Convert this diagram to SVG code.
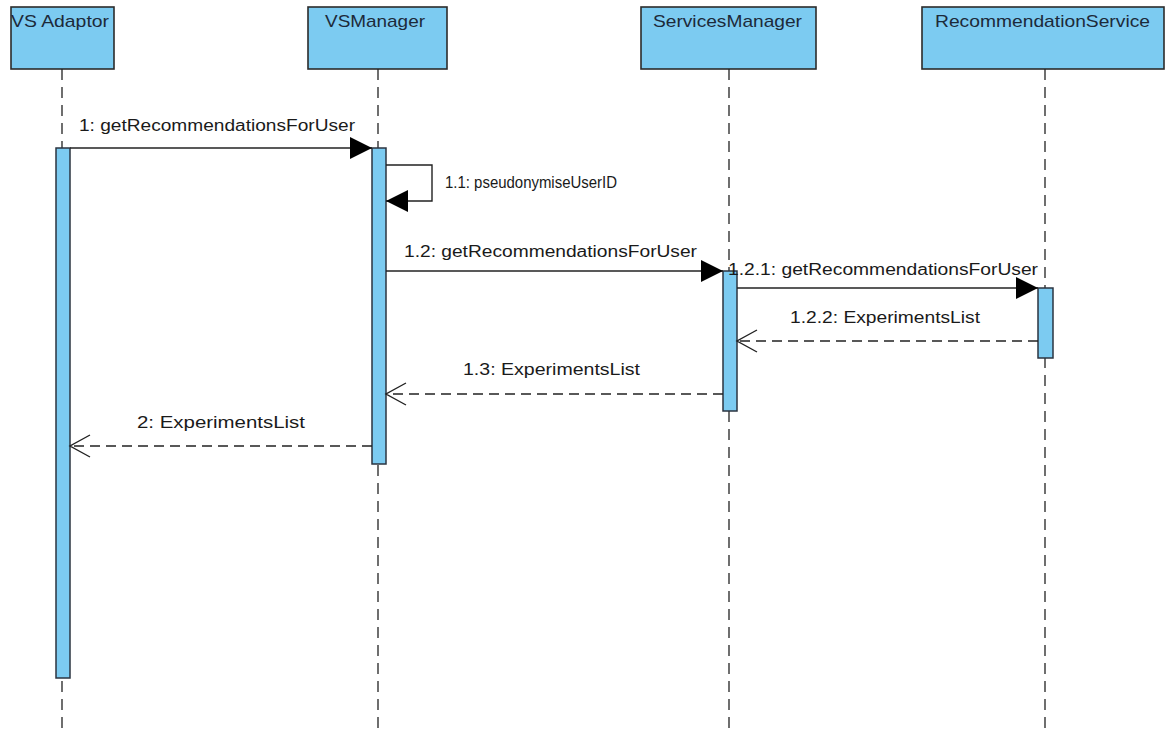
<svg xmlns="http://www.w3.org/2000/svg" width="1165" height="731" viewBox="0 0 1165 731">
  <style>
    .head { fill: #7ccbf1; stroke: #2b2b2b; stroke-width: 1.6; }
    .bar { fill: #7ccbf1; stroke: #2b3440; stroke-width: 1.5; }
    .life { stroke: #222; stroke-width: 1.3; stroke-dasharray: 11 7; fill: none; }
    .title { font-family: "Liberation Sans", Arial, sans-serif; font-size: 17px; fill: #1c2a3a; }
    .lbl { font-family: "Liberation Sans", Arial, sans-serif; font-size: 16px; fill: #1a1a1a; }
    .msg { stroke: #222; stroke-width: 1.4; fill: none; }
    .ret { stroke: #222; stroke-width: 1.4; fill: none; stroke-dasharray: 10 6; }
  </style>
  <defs>
    <marker id="filled" markerUnits="userSpaceOnUse" viewBox="0 0 22 22" refX="22" refY="11" markerWidth="22" markerHeight="22" orient="auto">
      <path d="M0,0 L22,11 L0,22 z" fill="#000"/>
    </marker>
    <marker id="open" markerUnits="userSpaceOnUse" viewBox="-2 -2 24 26" refX="20" refY="11" markerWidth="24" markerHeight="26" orient="auto">
      <path d="M0,0 L20,11 L0,22" fill="none" stroke="#222" stroke-width="1.4"/>
    </marker>
  </defs>
  <rect width="1165" height="731" fill="#fff"/>

  <g id="vsadaptor">
    <rect class="head" x="11" y="7" width="103" height="62"/>
    <line class="life" x1="62" y1="69" x2="62" y2="731"/>
    <rect class="bar" x="56" y="148" width="14" height="530"/>
    <text class="title" x="11" y="27" textLength="98" lengthAdjust="spacingAndGlyphs">VS Adaptor</text>
  </g>

  <g id="vsmanager">
    <rect class="head" x="308" y="7" width="139" height="62"/>
    <line class="life" x1="378" y1="69" x2="378" y2="731"/>
    <rect class="bar" x="372" y="148" width="14" height="316"/>
    <text class="title" x="325" y="27" textLength="100" lengthAdjust="spacingAndGlyphs">VSManager</text>
  </g>

  <g id="servicesmanager">
    <rect class="head" x="641" y="7" width="175" height="62"/>
    <line class="life" x1="729" y1="69" x2="729" y2="731"/>
    <rect class="bar" x="723" y="271" width="14" height="140"/>
    <text class="title" x="653" y="27" textLength="149" lengthAdjust="spacingAndGlyphs">ServicesManager</text>
  </g>

  <g id="recommendationservice">
    <rect class="head" x="922" y="7" width="242" height="62"/>
    <line class="life" x1="1045" y1="69" x2="1045" y2="731"/>
    <rect class="bar" x="1038" y="288" width="15" height="70"/>
    <text class="title" x="935" y="27" textLength="215" lengthAdjust="spacingAndGlyphs">RecommendationService</text>
  </g>

  <g id="connectors">
    <line class="msg" x1="70" y1="148" x2="372" y2="148" marker-end="url(#filled)"/>
    <polyline class="msg" points="386,165 432,165 432,201 386,201" marker-end="url(#filled)"/>
    <line class="msg" x1="386" y1="271" x2="723" y2="271" marker-end="url(#filled)"/>
    <line class="msg" x1="737" y1="288" x2="1038" y2="288" marker-end="url(#filled)"/>
    <line class="ret" x1="1038" y1="341" x2="737" y2="341" marker-end="url(#open)"/>
    <line class="ret" x1="723" y1="394" x2="386" y2="394" marker-end="url(#open)"/>
    <line class="ret" x1="372" y1="446" x2="70" y2="446" marker-end="url(#open)"/>
  </g>

  <g id="labels">
    <text class="lbl" x="79" y="131" textLength="276" lengthAdjust="spacingAndGlyphs">1: getRecommendationsForUser</text>
    <text class="lbl" x="445" y="188" textLength="172" lengthAdjust="spacingAndGlyphs">1.1: pseudonymiseUserID</text>
    <text class="lbl" x="404" y="257" textLength="293" lengthAdjust="spacingAndGlyphs">1.2: getRecommendationsForUser</text>
    <text class="lbl" x="728" y="275" textLength="310" lengthAdjust="spacingAndGlyphs">1.2.1: getRecommendationsForUser</text>
    <text class="lbl" x="790" y="323" textLength="190" lengthAdjust="spacingAndGlyphs">1.2.2: ExperimentsList</text>
    <text class="lbl" x="463" y="375" textLength="177" lengthAdjust="spacingAndGlyphs">1.3: ExperimentsList</text>
    <text class="lbl" x="137" y="428" textLength="168" lengthAdjust="spacingAndGlyphs">2: ExperimentsList</text>
  </g>
</svg>
